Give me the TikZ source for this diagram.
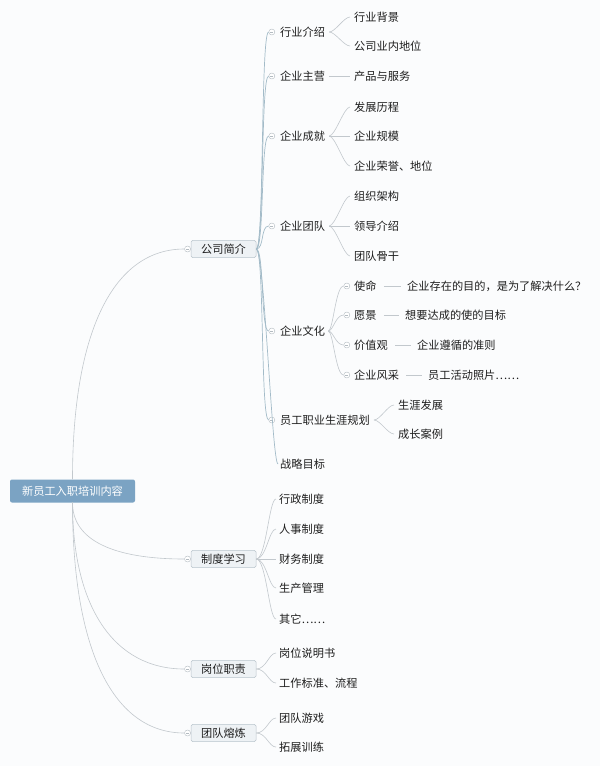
\documentclass[tikz,border=0pt]{standalone}
\usepackage{fontspec}
\setmainfont{Noto Sans CJK SC}
\usetikzlibrary{positioning}
\definecolor{bgwhite}{HTML}{FBFCFD}
\definecolor{rootblue}{HTML}{7BA3C3}
\definecolor{boxfill}{HTML}{EEF2F5}
\definecolor{boxline}{HTML}{B9C4CC}
\definecolor{textgray}{HTML}{1E1E1E}
\definecolor{linegray}{HTML}{C2C8CD}
\definecolor{lineblue}{HTML}{A3BBC8}
\definecolor{foldgray}{HTML}{B3BBC1}

\begin{document}
\begin{tikzpicture}[x=1pt,y=-1pt]
\useasboundingbox[fill=bgwhite] (0,0) rectangle (600,766);

\tikzset{RootStyle/.style = {
 fill = rootblue,
 rounded corners = 2pt,
 text = white,
 font = \fontsize{11.2}{13}\selectfont,
 minimum width = 125pt,
 minimum height = 23pt} }
\tikzset{BoxStyle/.style = {
 fill = boxfill,
 draw = boxline,
 line width = 0.5pt,
 rounded corners = 1.5pt,
 text = textgray,
 font = \fontsize{11.2}{13}\selectfont,
 minimum width = 65pt,
 minimum height = 17pt} }
\tikzset{TopicStyle/.style = {
 anchor = west,
 inner sep = 0pt,
 text = textgray,
 font = \fontsize{11.2}{13}\selectfont} }
\tikzset{FoldStyle/.style = {
 circle,
 draw = foldgray,
 fill = white,
 line width = 0.4pt,
 inner sep = 0pt,
 minimum size = 6pt,
 path picture = {\draw[foldgray, line width=0.4pt]
   ([xshift=-1.6pt]path picture bounding box.center) --
   ([xshift=1.6pt]path picture bounding box.center);}} }
\tikzset{LinkStyle/.style = {draw = linegray, line width = 0.6pt} }
\tikzset{LinkBlue/.style = {draw = lineblue, line width = 0.7pt} }

% root and main topics
\node[RootStyle] (T0) at (72.5, 491) {新员工入职培训内容};
\node[BoxStyle] (T1_1) at (223.5, 249) {公司简介};
\node[BoxStyle] (T1_2) at (223.5, 559) {制度学习};
\node[BoxStyle] (T1_3) at (223.5, 669) {岗位职责};
\node[BoxStyle] (T1_4) at (223.5, 733) {团队熔炼};

% under 公司简介
\node[TopicStyle] (T2_1) at (280, 32) {行业介绍};
\node[TopicStyle] (T2_2) at (280, 76) {企业主营};
\node[TopicStyle] (T2_3) at (280, 136) {企业成就};
\node[TopicStyle] (T2_4) at (280, 226) {企业团队};
\node[TopicStyle] (T2_5) at (280, 331) {企业文化};
\node[TopicStyle] (T2_6) at (280, 420) {员工职业生涯规划};
\node[TopicStyle] (T2_7) at (280, 464) {战略目标};

\node[TopicStyle] (T3_1) at (354, 17) {行业背景};
\node[TopicStyle] (T3_2) at (354, 46) {公司业内地位};
\node[TopicStyle] (T3_3) at (354, 76) {产品与服务};
\node[TopicStyle] (T3_4) at (354, 107) {发展历程};
\node[TopicStyle] (T3_5) at (354, 136) {企业规模};
\node[TopicStyle] (T3_6) at (354, 166) {企业荣誉、地位};
\node[TopicStyle] (T3_7) at (354, 196) {组织架构};
\node[TopicStyle] (T3_8) at (354, 226) {领导介绍};
\node[TopicStyle] (T3_9) at (354, 256) {团队骨干};
\node[TopicStyle] (T3_10) at (354, 286) {使命};
\node[TopicStyle] (T3_11) at (354, 315) {愿景};
\node[TopicStyle] (T3_12) at (354, 345) {价值观};
\node[TopicStyle] (T3_13) at (354, 375) {企业风采};
\node[TopicStyle] (T3_14) at (398, 405) {生涯发展};
\node[TopicStyle] (T3_15) at (398, 434) {成长案例};

\node[TopicStyle] (T4_1) at (407, 286) {企业存在的目的，是为了解决什么？};
\node[TopicStyle] (T4_2) at (405, 315) {想要达成的使的目标};
\node[TopicStyle] (T4_3) at (417, 345) {企业遵循的准则};
\node[TopicStyle] (T4_4) at (428, 375) {员工活动照片……};

% under 制度学习, 岗位职责, 团队熔炼
\node[TopicStyle] (T2_8) at (279, 499) {行政制度};
\node[TopicStyle] (T2_9) at (279, 529) {人事制度};
\node[TopicStyle] (T2_10) at (279, 559) {财务制度};
\node[TopicStyle] (T2_11) at (279, 588) {生产管理};
\node[TopicStyle] (T2_12) at (279, 619) {其它……};
\node[TopicStyle] (T2_13) at (279, 653) {岗位说明书};
\node[TopicStyle] (T2_14) at (279, 683) {工作标准、流程};
\node[TopicStyle] (T2_15) at (279, 718) {团队游戏};
\node[TopicStyle] (T2_16) at (279, 747) {拓展训练};

% fold markers
\node[FoldStyle, left=0pt of T1_1] (F1_1) {};
\node[FoldStyle, left=0pt of T1_2] (F1_2) {};
\node[FoldStyle, left=0pt of T1_3] (F1_3) {};
\node[FoldStyle, left=0pt of T1_4] (F1_4) {};
\node[FoldStyle, left=5pt of T2_1] (F2_1) {};
\node[FoldStyle, left=5pt of T2_2] (F2_2) {};
\node[FoldStyle, left=5pt of T2_3] (F2_3) {};
\node[FoldStyle, left=5pt of T2_4] (F2_4) {};
\node[FoldStyle, left=5pt of T2_5] (F2_5) {};
\node[FoldStyle, left=5pt of T2_6] (F2_6) {};
\node[FoldStyle, left=4pt of T3_10] (F3_10) {};
\node[FoldStyle, left=4pt of T3_11] (F3_11) {};
\node[FoldStyle, left=4pt of T3_12] (F3_12) {};
\node[FoldStyle, left=4pt of T3_13] (F3_13) {};

% root links
\draw[LinkStyle] (T0.north) .. controls +(0,-150) and +(-70,0) .. (F1_1.west);
\draw[LinkStyle] (T0.south) .. controls +(0,38) and +(-70,0) .. (F1_2.west);
\draw[LinkStyle] (T0.south) .. controls +(0,105) and +(-70,0) .. (F1_3.west);
\draw[LinkStyle] (T0.south) .. controls +(0,150) and +(-70,0) .. (F1_4.west);

% 公司简介 links
\draw[LinkBlue] (T1_1.east) .. controls +(8,0) and +(-8,0) .. (F2_1.west);
\draw[LinkBlue] (T1_1.east) .. controls +(8,0) and +(-8,0) .. (F2_2.west);
\draw[LinkBlue] (T1_1.east) .. controls +(8,0) and +(-8,0) .. (F2_3.west);
\draw[LinkBlue] (T1_1.east) .. controls +(8,0) and +(-8,0) .. (F2_4.west);
\draw[LinkBlue] (T1_1.east) .. controls +(8,0) and +(-8,0) .. (F2_5.west);
\draw[LinkBlue] (T1_1.east) .. controls +(8,0) and +(-8,0) .. (F2_6.west);
\draw[LinkBlue, shorten >=2pt] (T1_1.east) .. controls +(8,0) and +(-8,0) .. (T2_7.west);

\tikzset{FromText/.style = {LinkStyle, shorten <=4pt, shorten >=4pt} }

\draw[FromText] (T2_1.east) .. controls +(10,0) and +(-10,0) .. (T3_1.west);
\draw[FromText] (T2_1.east) .. controls +(10,0) and +(-10,0) .. (T3_2.west);
\draw[FromText] (T2_2.east) -- (T3_3.west);
\draw[FromText] (T2_3.east) .. controls +(10,0) and +(-10,0) .. (T3_4.west);
\draw[FromText] (T2_3.east) -- (T3_5.west);
\draw[FromText] (T2_3.east) .. controls +(10,0) and +(-10,0) .. (T3_6.west);
\draw[FromText] (T2_4.east) .. controls +(10,0) and +(-10,0) .. (T3_7.west);
\draw[FromText] (T2_4.east) -- (T3_8.west);
\draw[FromText] (T2_4.east) .. controls +(10,0) and +(-10,0) .. (T3_9.west);
\draw[LinkStyle, shorten <=3pt] (T2_5.east) .. controls +(8,0) and +(-8,0) .. (F3_10.west);
\draw[LinkStyle, shorten <=3pt] (T2_5.east) .. controls +(8,0) and +(-8,0) .. (F3_11.west);
\draw[LinkStyle, shorten <=3pt] (T2_5.east) .. controls +(8,0) and +(-8,0) .. (F3_12.west);
\draw[LinkStyle, shorten <=3pt] (T2_5.east) .. controls +(8,0) and +(-8,0) .. (F3_13.west);
\draw[FromText] (T2_6.east) .. controls +(10,0) and +(-10,0) .. (T3_14.west);
\draw[FromText] (T2_6.east) .. controls +(10,0) and +(-10,0) .. (T3_15.west);

\tikzset{LeafLine/.style = {LinkStyle, shorten <=7pt, shorten >=6pt} }
\draw[LeafLine] (T3_10.east) -- (T4_1.west);
\draw[LeafLine] (T3_11.east) -- (T4_2.west);
\draw[LeafLine] (T3_12.east) -- (T4_3.west);
\draw[LeafLine] (T3_13.east) -- (T4_4.west);

% 制度学习, 岗位职责, 团队熔炼 links
\tikzset{FromBox/.style = {LinkStyle, shorten >=3pt} }
\draw[FromBox] (T1_2.east) .. controls +(10,0) and +(-10,0) .. (T2_8.west);
\draw[FromBox] (T1_2.east) .. controls +(10,0) and +(-10,0) .. (T2_9.west);
\draw[FromBox] (T1_2.east) -- (T2_10.west);
\draw[FromBox] (T1_2.east) .. controls +(10,0) and +(-10,0) .. (T2_11.west);
\draw[FromBox] (T1_2.east) .. controls +(10,0) and +(-10,0) .. (T2_12.west);
\draw[FromBox] (T1_3.east) .. controls +(10,0) and +(-10,0) .. (T2_13.west);
\draw[FromBox] (T1_3.east) .. controls +(10,0) and +(-10,0) .. (T2_14.west);
\draw[FromBox] (T1_4.east) .. controls +(10,0) and +(-10,0) .. (T2_15.west);
\draw[FromBox] (T1_4.east) .. controls +(10,0) and +(-10,0) .. (T2_16.west);

\end{tikzpicture}
\end{document}
